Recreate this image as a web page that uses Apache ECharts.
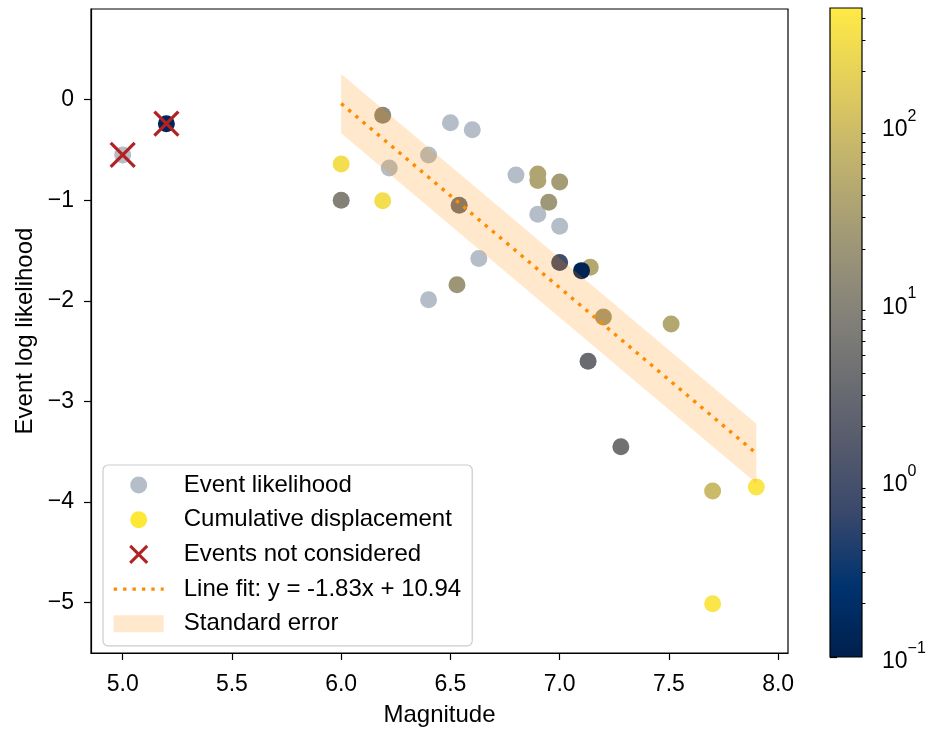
<!DOCTYPE html>
<html>
<head>
<meta charset="utf-8">
<script src="https://cdn.jsdelivr.net/npm/echarts@6/dist/echarts.min.js"></script>
<style>
  html, body { margin: 0; padding: 0; background: #fff; }
  #chart { width: 929px; height: 732px; }
</style>
</head>
<body>
<div id="chart"></div>
<script>
// Event likelihood points (uncoloured)
const likeX = [5.00, 6.22, 6.40, 6.50, 6.60, 6.80, 6.90, 7.00, 6.63, 6.40];
const likeY = [-0.55, -0.68, -0.55, -0.23, -0.30, -0.75, -1.14, -1.26, -1.58, -1.99];

// Cumulative displacement points, coloured by displacement (log scale)
const dispX = [5.20, 6.00, 6.00, 6.19, 6.19, 6.54, 6.53, 6.90, 6.90, 7.00, 6.95, 7.00, 7.14, 7.10, 7.20, 7.13, 7.28, 7.51, 7.70, 7.90, 7.70];
const dispY = [-0.24, -0.64, -1.00, -0.155, -1.005, -1.05, -1.84, -0.74, -0.805, -0.82, -1.02, -1.62, -1.667, -1.70, -2.16, -2.60, -3.45, -2.23, -3.89, -3.85, -5.01];
const dispV = [0.13, 300, 8.5, 12, 300, 4.5, 20, 36, 36, 26, 22, 0.8, 43, 0.12, 24, 3.2, 4.2, 43, 85, 386, 386];

// Events left out of the fit
const skipX = [5.00, 5.20];
const skipY = [-0.55, -0.24];

// Linear fit and its standard error
const fitSlope = -1.83;
const fitIntercept = 10.94;
const fitStdErr = 0.295;
const fitX = [6.0, 7.9];

// Axis ticks
const xTicks = [5.0, 5.5, 6.0, 6.5, 7.0, 7.5, 8.0];
const yTicks = [-5, -4, -3, -2, -1, 0];
const cbMajor = [-1, 0, 1, 2];               // log10 of 0.1 .. 100
const cbMin = 0.1, cbMax = 457;

// cividis colour ramp
const cividis = ['#00204D', '#00336F', '#39486B', '#575C6D', '#707173', '#8A8779', '#A69D75', '#C4B56C', '#E4CF5B', '#FFEA46'];

const FONT = "'Liberation Sans', Arial, Helvetica, sans-serif";
const cbLogMin = Math.log10(cbMin), cbLogMax = Math.log10(cbMax);

const cbMinor = [];
for (let d = -1; d <= 2; d++) {
  for (let m = 2; m <= 9; m++) {
    const v = Math.log10(m) + d;
    if (v < cbLogMax) cbMinor.push(v);
  }
}

const fitLine = fitX.map(x => [x, fitSlope * x + fitIntercept]);
const likeData = likeX.map((x, i) => [x, likeY[i]]);
const dispData = dispX.map((x, i) => [x, dispY[i], Math.log10(dispV[i])]);
const skipData = skipX.map((x, i) => [x, skipY[i]]);
const bandData = [[fitX[0], fitX[1],
  fitSlope * fitX[0] + fitIntercept + fitStdErr,
  fitSlope * fitX[1] + fitIntercept - fitStdErr]];

const minusFmt = v => (v < 0 ? '\u2212' + Math.abs(v) : String(v));
const X_PATH = 'path://M0,0L10,10M10,0L0,10';
const FIT_STYLE = { color: '#ff8c00', width: 3.4, type: [3.4, 6], cap: 'butt' };

const chart = echarts.init(document.getElementById('chart'), null, { renderer: 'canvas' });

const option = {
  animation: false,
  backgroundColor: '#fff',
  textStyle: { fontFamily: FONT },
  grid: [
    { left: 91, right: 141, top: 9, bottom: 74, show: true, borderColor: '#000', borderWidth: 1.2, backgroundColor: 'transparent' },
    { left: 830, width: 32, top: 8, bottom: 75, show: false }
  ],
  xAxis: [
    {
      gridIndex: 0, type: 'value', min: 4.855, max: 8.045,
      axisLine: { show: true, onZero: false, lineStyle: { color: '#000', width: 1.2 } },
      axisTick: { show: true, customValues: xTicks, length: 7, lineStyle: { color: '#000', width: 1.2 } },
      axisLabel: { customValues: xTicks, formatter: v => Number(v).toFixed(1), fontSize: 23, color: '#000', margin: 20, fontFamily: FONT },
      splitLine: { show: false },
      name: 'Magnitude', nameLocation: 'middle', nameGap: 50,
      nameTextStyle: { fontSize: 24, color: '#000', fontFamily: FONT }
    },
    { gridIndex: 1, type: 'value', min: 0, max: 1, show: false }
  ],
  yAxis: [
    {
      gridIndex: 0, type: 'value', min: -5.5, max: 0.9,
      axisLine: { show: true, onZero: false, lineStyle: { color: '#000', width: 1.2 } },
      axisTick: { show: true, customValues: yTicks, length: 7, lineStyle: { color: '#000', width: 1.2 } },
      axisLabel: { customValues: yTicks, formatter: minusFmt, fontSize: 23, color: '#000', margin: 17, fontFamily: FONT },
      splitLine: { show: false },
      name: 'Event log likelihood', nameLocation: 'middle', nameGap: 51,
      nameTextStyle: { fontSize: 24, color: '#000', fontFamily: FONT }
    },
    {
      gridIndex: 1, type: 'value', position: 'right', min: cbLogMin, max: cbLogMax,
      axisLine: { show: false },
      axisTick: { show: true, customValues: cbMajor, length: 7, lineStyle: { color: '#000', width: 1.2 } },
      axisLabel: {
        customValues: cbMajor, margin: 20,
        formatter: v => '{b|10}{s|' + minusFmt(Math.round(v)) + '}',
        rich: {
          b: { fontSize: 23, color: '#000', fontFamily: FONT, verticalAlign: 'bottom', lineHeight: 33 },
          s: { fontSize: 16, color: '#000', fontFamily: FONT, verticalAlign: 'top', lineHeight: 33 }
        }
      },
      splitLine: { show: false }
    },
    {
      gridIndex: 1, type: 'value', position: 'right', min: cbLogMin, max: cbLogMax,
      axisLine: { show: false },
      axisTick: { show: true, customValues: cbMinor, length: 3.5, lineStyle: { color: '#000', width: 1 } },
      axisLabel: { show: false },
      splitLine: { show: false }
    }
  ],
  visualMap: {
    type: 'continuous', show: false, seriesIndex: 1, dimension: 2,
    min: cbLogMin, max: cbLogMax, inRange: { color: cividis }
  },
  legend: {
    orient: 'vertical', left: 103, top: 465,
    itemWidth: 50, itemHeight: 17, itemGap: 10.7,
    padding: [8, 11, 10, 9],
    backgroundColor: 'rgba(255,255,255,0.8)', borderColor: '#cccccc', borderWidth: 1.2, borderRadius: 5,
    selectedMode: false,
    textStyle: { fontSize: 24, color: '#000', fontFamily: FONT, padding: [0, 0, 0, 15] },
    data: [
      { name: 'Event likelihood', icon: 'circle', itemStyle: { color: '#b5bec8' } },
      { name: 'Cumulative displacement', icon: 'circle', itemStyle: { color: '#fde838' } },
      { name: 'Events not considered', icon: X_PATH, itemStyle: { color: 'rgba(0,0,0,0)', borderColor: '#b22222', borderWidth: 3, opacity: 1 } },
      { name: 'Line fit: y = -1.83x + 10.94', itemStyle: { color: 'rgba(0,0,0,0)', opacity: 0, borderWidth: 0 }, lineStyle: FIT_STYLE },
      { name: 'Standard error', icon: 'rect', itemStyle: { color: 'rgba(255,140,0,0.2)' } }
    ]
  },
  series: [
    {
      name: 'Event likelihood', type: 'scatter', xAxisIndex: 0, yAxisIndex: 0, z: 2,
      symbol: 'circle', symbolSize: 17, data: likeData,
      itemStyle: { color: '#b5bec8', opacity: 1 }, silent: true
    },
    {
      name: 'Cumulative displacement', type: 'scatter', xAxisIndex: 0, yAxisIndex: 0, z: 2,
      symbol: 'circle', symbolSize: 17, data: dispData,
      encode: { x: 0, y: 1 },
      itemStyle: { color: '#fde838', opacity: 1 }, silent: true
    },
    {
      name: 'Events not considered', type: 'scatter', xAxisIndex: 0, yAxisIndex: 0, z: 5,
      symbol: X_PATH, symbolSize: 24, data: skipData,
      itemStyle: { color: 'rgba(0,0,0,0)', borderColor: '#b22222', borderWidth: 3.2, opacity: 1 }, silent: true
    },
    {
      name: 'Line fit: y = -1.83x + 10.94', type: 'line', xAxisIndex: 0, yAxisIndex: 0, z: 4,
      symbol: 'none', showSymbol: false, data: fitLine,
      itemStyle: { color: '#ff8c00' },
      lineStyle: FIT_STYLE, silent: true
    },
    {
      name: 'Standard error', type: 'custom', xAxisIndex: 0, yAxisIndex: 0, z: 3,
      data: bandData, encode: { x: [0, 1], y: [2, 3] },
      itemStyle: { color: 'rgba(255,140,0,0.2)' }, silent: true,
      renderItem: (params, api) => {
        const pts = [];
        fitX.forEach(x => pts.push(api.coord([x, fitSlope * x + fitIntercept + fitStdErr])));
        fitX.slice().reverse().forEach(x => pts.push(api.coord([x, fitSlope * x + fitIntercept - fitStdErr])));
        return { type: 'polygon', shape: { points: pts }, style: { fill: 'rgba(255,140,0,0.2)' } };
      }
    },
    {
      // colour bar
      type: 'custom', xAxisIndex: 1, yAxisIndex: 1, z: 2, silent: true,
      data: [[0, cbLogMin, 1, cbLogMax]], encode: { x: [0, 2], y: [1, 3] },
      renderItem: (params, api) => {
        const p0 = api.coord([0, cbLogMax]);
        const p1 = api.coord([1, cbLogMin]);
        const stops = cividis.map((c, i) => ({ offset: i / (cividis.length - 1), color: c }));
        return {
          type: 'rect',
          shape: { x: p0[0], y: p0[1], width: p1[0] - p0[0], height: p1[1] - p0[1] },
          style: {
            fill: new echarts.graphic.LinearGradient(0, 1, 0, 0, stops),
            stroke: '#000', lineWidth: 1.2
          }
        };
      }
    }
  ]
};

chart.setOption(option);
</script>
</body>
</html>
